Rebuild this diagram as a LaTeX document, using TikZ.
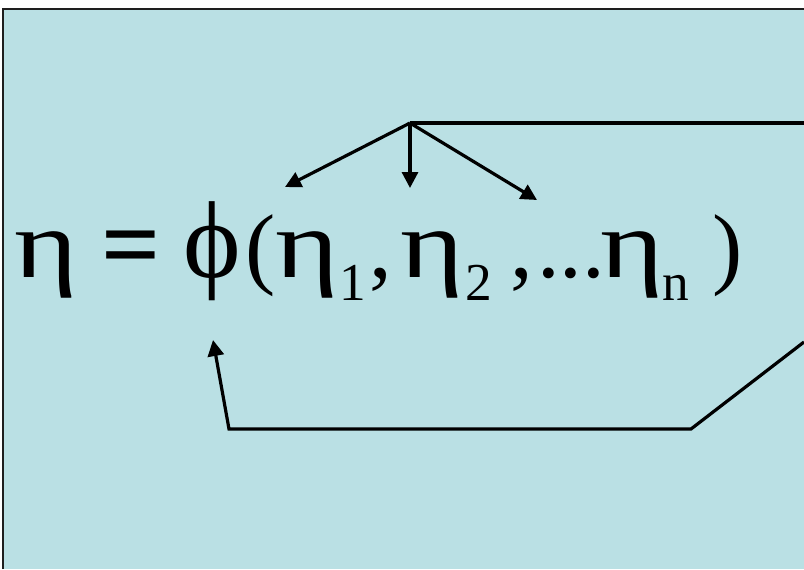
\documentclass[tikz,border=0pt]{standalone}
\usepackage{fontspec}
\setmainfont{Liberation Serif}
\usetikzlibrary{arrows.meta}
\definecolor{bgblue}{RGB}{186,224,228}
\definecolor{frame}{RGB}{30,30,30}
\newcommand{\wideeta}{\scalebox{1.25}[1]{η}}
\tikzset{
  glyph/.style={inner sep=0pt, outer sep=0pt, anchor=base west},
  gk/.style={glyph, font=\fontsize{73}{73}\selectfont},
  phs/.style={glyph, font=\fontsize{82}{82}\selectfont},
  eqs/.style={glyph, font=\fontsize{78}{78}\selectfont\bfseries},
  big/.style={glyph, font=\fontsize{68}{68}\selectfont},
  sub/.style={glyph, font=\fontsize{40}{40}\selectfont},
  conn/.style={line width=2.4pt, line join=miter},
  arr/.style={conn, -{Triangle[length=12pt,width=12pt]}},
}
\begin{document}
\begin{tikzpicture}[x=0.75pt,y=-0.75pt]
\useasboundingbox (0,0) rectangle (804,569);
\fill[white] (0,0) rectangle (804,569);
\fill[bgblue] (3,9) rectangle (804,569);
\draw[frame, line width=1.6pt] (3,569) -- (3,9) -- (804,9);
% formula
\node[gk]  (e0) at (15,277) {\wideeta};
\node[eqs] (eq) at (101,279) {=};
\node[phs] (ph) at (183,277) {ϕ};
\node[big] (lp) at (245,277) {(};
\node[gk]  (e1) at (275,277) {\wideeta};
\node[sub] (s1) at (339,300) {1};
\node[big] (c1) at (369,277) {,};
\node[gk]  (e2) at (400,277) {\wideeta};
\node[sub] (s2) at (465,300) {2};
\node[big] (c2) at (510,277) {,};
\node[big] (dt) at (537,277) {...};
\node[gk]  (e3) at (600,277) {\wideeta};
\node[sub] (sn) at (662,300) {n};
\node[big] (rp) at (712,277) {)};
% connectors
\coordinate (hub) at (410,123);
\coordinate (rt) at (804,123);
\coordinate (t1) at (285,187);
\coordinate (t2) at (410,188);
\coordinate (t3) at (537,200);
\coordinate (rb) at (804,342);
\coordinate (k1) at (691,429);
\coordinate (k2) at (229,429);
\coordinate (t4) at (213,340);
\draw[conn] (rt) -- (hub);
\draw[arr] (hub) -- (t1);
\draw[arr] (hub) -- (t2);
\draw[arr] (hub) -- (t3);
\draw[arr] (rb) -- (k1) -- (k2) -- (t4);
\end{tikzpicture}
\end{document}
